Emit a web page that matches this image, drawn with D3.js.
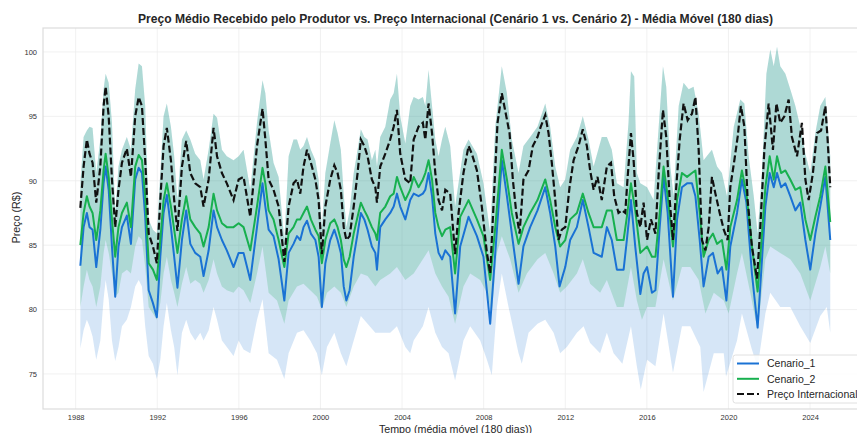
<!DOCTYPE html>
<meta charset="utf-8">
<head>
<script src="https://cdn.jsdelivr.net/npm/d3@7/dist/d3.min.js"></script>
</head>
<style>
  body { margin: 0; background: #fff; font-family: "Liberation Sans", Arial, sans-serif; }
  svg { display: block; }
  .grid line { stroke: #ededed; stroke-width: 0.8; }
  .tick text { fill: #333; font-size: 7.5px; }
</style>
<body></body>
<script>
var width = 857, height = 433;
var margin = {left: 43, right: 868, top: 28, bottom: 409};

// [ano, valor]
var precoInternacional = [
  [1988.23,87.9],[1988.39,91.1],[1988.55,93.2],[1988.68,92.1],[1988.83,91.4],[1989.01,88.3],[1989.21,91.1],
  [1989.37,95.8],[1989.47,97.3],[1989.62,95.0],[1989.78,90.1],[1989.94,86.4],[1990.10,89.3],[1990.27,91.4],
  [1990.51,92.5],[1990.71,90.3],[1990.92,95.0],[1991.09,96.5],[1991.25,95.8],[1991.41,91.6],[1991.58,85.9],
  [1991.79,84.9],[1991.98,83.6],[1992.15,88.5],[1992.31,92.7],[1992.47,94.1],[1992.67,91.6],[1992.83,88.5],
  [1992.99,86.1],[1993.21,91.1],[1993.42,93.1],[1993.62,90.6],[1993.86,89.8],[1994.11,89.5],[1994.27,88.0],
  [1994.52,90.1],[1994.76,94.1],[1994.93,91.9],[1995.17,90.6],[1995.41,89.8],[1995.74,88.5],[1995.99,90.1],
  [1996.23,90.3],[1996.56,87.2],[1996.89,92.7],[1997.16,95.6],[1997.30,93.2],[1997.46,90.1],[1997.70,89.3],
  [1997.95,88.0],[1998.23,83.7],[1998.44,88.0],[1998.68,89.8],[1998.85,90.1],[1999.01,89.0],[1999.17,91.1],
  [1999.34,92.4],[1999.53,91.4],[1999.75,90.1],[1999.91,88.5],[2000.07,84.3],[2000.24,88.0],[2000.48,90.1],
  [2000.68,91.2],[2000.84,90.6],[2001.00,89.3],[2001.14,86.4],[2001.27,85.4],[2001.43,85.7],[2001.63,88.0],
  [2001.82,90.6],[2001.98,93.2],[2002.15,92.7],[2002.31,91.9],[2002.52,90.1],[2002.69,89.5],[2002.77,88.3],
  [2002.93,91.1],[2003.18,92.1],[2003.42,93.2],[2003.59,94.2],[2003.75,95.5],[2003.91,92.1],[2004.16,90.1],
  [2004.40,89.8],[2004.57,93.2],[2004.81,94.2],[2005.02,94.5],[2005.14,93.2],[2005.30,96.0],[2005.47,93.7],
  [2005.63,90.6],[2005.79,88.5],[2005.96,87.7],[2006.12,89.3],[2006.36,89.0],[2006.60,84.3],[2006.77,87.5],
  [2007.01,90.6],[2007.26,92.7],[2007.42,92.1],[2007.67,90.8],[2007.91,88.0],[2008.16,84.4],[2008.32,82.8],
  [2008.48,88.0],[2008.68,94.5],[2008.89,96.8],[2009.11,95.0],[2009.27,93.7],[2009.43,90.1],[2009.60,87.5],
  [2009.76,85.9],[2009.95,90.1],[2010.20,90.8],[2010.41,92.7],[2010.64,93.4],[2010.80,94.2],[2011.02,95.1],
  [2011.18,93.7],[2011.34,91.4],[2011.51,88.5],[2011.67,85.4],[2011.83,86.2],[2012.00,86.4],[2012.21,89.5],
  [2012.41,91.6],[2012.65,92.7],[2012.86,94.0],[2013.06,92.7],[2013.22,90.8],[2013.39,89.3],[2013.58,90.3],
  [2013.79,88.5],[2014.04,91.1],[2014.24,91.4],[2014.40,88.8],[2014.61,87.5],[2014.78,87.7],[2014.94,87.5],
  [2015.05,90.1],[2015.22,93.7],[2015.35,91.6],[2015.51,87.5],[2015.68,86.4],[2015.84,88.3],[2016.01,85.4],
  [2016.20,87.0],[2016.42,85.9],[2016.58,90.6],[2016.79,95.5],[2016.95,93.4],[2017.12,88.5],[2017.28,85.4],
  [2017.44,89.5],[2017.61,93.2],[2017.80,96.0],[2018.00,94.7],[2018.21,95.2],[2018.38,96.5],[2018.54,92.4],
  [2018.70,85.4],[2018.87,84.6],[2019.03,86.4],[2019.19,90.3],[2019.36,89.0],[2019.57,87.5],[2019.77,86.2],
  [2019.96,85.4],[2020.09,89.5],[2020.29,91.6],[2020.45,93.4],[2020.61,95.8],[2020.78,94.2],[2020.94,88.5],
  [2021.15,84.9],[2021.40,82.4],[2021.56,86.4],[2021.76,92.4],[2021.97,96.0],[2022.18,92.4],[2022.35,96.0],
  [2022.54,94.5],[2022.74,95.0],[2022.95,96.3],[2023.11,93.4],[2023.36,91.9],[2023.60,94.5],[2023.77,90.1],
  [2023.93,88.5],[2024.14,90.6],[2024.34,93.7],[2024.54,93.9],[2024.75,95.8],[2024.86,93.2],[2024.99,89.5]
];

var cenario2 = [
  [1988.23,85.0],[1988.39,87.5],[1988.55,88.8],[1988.68,88.0],[1988.83,87.5],[1989.01,85.4],[1989.21,87.7],
  [1989.37,90.8],[1989.47,92.1],[1989.62,90.3],[1989.78,87.0],[1989.94,84.1],[1990.10,86.4],[1990.27,87.5],
  [1990.51,88.3],[1990.71,86.4],[1990.92,91.1],[1991.09,92.0],[1991.25,91.6],[1991.41,88.8],[1991.58,83.6],
  [1991.79,83.1],[1991.98,82.3],[1992.15,85.4],[1992.31,88.5],[1992.47,89.8],[1992.67,88.0],[1992.83,86.2],
  [1992.99,84.4],[1993.21,87.0],[1993.42,88.8],[1993.62,87.0],[1993.86,86.4],[1994.11,85.9],[1994.27,84.9],
  [1994.52,86.4],[1994.76,89.0],[1994.93,87.7],[1995.17,86.7],[1995.41,86.4],[1995.74,86.4],[1995.99,86.7],
  [1996.23,86.4],[1996.56,84.6],[1996.89,88.0],[1997.16,91.0],[1997.30,89.8],[1997.46,87.7],[1997.70,87.0],
  [1997.95,85.4],[1998.23,83.3],[1998.44,85.9],[1998.68,86.4],[1998.85,87.0],[1999.01,87.0],[1999.17,87.5],
  [1999.34,88.0],[1999.53,87.0],[1999.75,86.2],[1999.91,85.7],[2000.07,83.6],[2000.24,85.4],[2000.48,86.7],
  [2000.68,87.0],[2000.84,86.4],[2001.00,85.4],[2001.14,83.9],[2001.27,83.3],[2001.43,84.1],[2001.63,85.9],
  [2001.82,87.2],[2001.98,88.3],[2002.15,87.7],[2002.31,87.2],[2002.52,86.4],[2002.69,85.9],[2002.77,85.4],
  [2002.93,87.5],[2003.18,88.0],[2003.42,88.8],[2003.59,89.0],[2003.75,90.3],[2003.91,89.5],[2004.16,88.5],
  [2004.40,89.3],[2004.57,90.3],[2004.81,89.5],[2005.02,90.1],[2005.14,90.6],[2005.30,91.6],[2005.47,90.1],
  [2005.63,87.5],[2005.79,86.4],[2005.96,85.7],[2006.12,86.2],[2006.36,86.4],[2006.60,82.8],[2006.85,87.2],
  [2007.26,88.5],[2007.67,87.0],[2007.99,85.7],[2008.32,82.3],[2008.57,86.4],[2008.89,92.4],[2009.14,90.1],
  [2009.38,87.5],[2009.71,85.1],[2009.95,86.4],[2010.28,87.5],[2010.64,88.5],[2011.02,90.1],[2011.26,88.5],
  [2011.51,86.4],[2011.75,84.9],[2012.00,85.4],[2012.24,87.0],[2012.57,87.5],[2012.86,89.0],[2013.14,87.5],
  [2013.39,86.4],[2013.79,86.4],[2014.04,87.7],[2014.28,87.7],[2014.53,85.4],[2014.86,85.4],[2015.02,87.2],
  [2015.22,89.8],[2015.43,87.7],[2015.68,84.4],[2016.01,84.9],[2016.25,84.1],[2016.42,84.1],[2016.63,87.5],
  [2016.82,91.1],[2017.02,88.8],[2017.28,84.9],[2017.48,88.5],[2017.72,90.6],[2017.97,90.3],[2018.21,90.6],
  [2018.38,90.8],[2018.59,87.5],[2018.78,84.1],[2019.03,85.4],[2019.24,85.9],[2019.44,85.1],[2019.68,85.4],
  [2019.90,83.1],[2020.09,86.4],[2020.42,88.5],[2020.66,90.8],[2020.88,89.0],[2021.15,84.9],[2021.43,81.4],
  [2021.60,84.9],[2021.81,89.5],[2022.02,91.9],[2022.22,90.1],[2022.38,91.9],[2022.58,90.6],[2022.79,90.8],
  [2023.03,90.1],[2023.28,89.3],[2023.52,89.5],[2023.77,87.0],[2024.01,85.4],[2024.26,87.2],[2024.50,88.8],
  [2024.75,91.1],[2024.99,86.8]
];

var cenario1 = [
  [1988.23,83.4],[1988.39,86.4],[1988.55,87.5],[1988.68,86.4],[1988.83,86.2],[1989.01,83.3],[1989.21,86.2],
  [1989.37,89.8],[1989.47,91.1],[1989.62,89.3],[1989.78,84.9],[1989.94,81.0],[1990.10,84.9],[1990.27,86.4],
  [1990.51,87.3],[1990.71,85.1],[1990.92,90.1],[1991.09,91.0],[1991.25,90.6],[1991.41,87.2],[1991.58,81.5],
  [1991.79,80.5],[1991.98,79.4],[1992.15,84.1],[1992.31,87.5],[1992.47,88.9],[1992.67,86.4],[1992.83,84.1],
  [1992.99,81.7],[1993.21,85.4],[1993.42,87.7],[1993.62,85.1],[1993.86,84.4],[1994.11,84.1],[1994.27,82.6],
  [1994.52,84.6],[1994.76,87.7],[1994.93,86.4],[1995.17,85.4],[1995.41,84.6],[1995.74,83.3],[1995.99,84.4],
  [1996.23,84.4],[1996.56,82.3],[1996.89,86.4],[1997.16,89.8],[1997.30,88.0],[1997.46,86.2],[1997.70,85.7],
  [1997.95,83.9],[1998.23,80.7],[1998.44,84.4],[1998.68,85.1],[1998.85,85.7],[1999.01,85.4],[1999.17,86.4],
  [1999.34,86.9],[1999.53,85.9],[1999.75,85.4],[1999.91,84.1],[2000.07,80.2],[2000.24,83.6],[2000.48,85.4],
  [2000.68,86.2],[2000.84,85.4],[2001.00,84.4],[2001.14,81.8],[2001.27,80.7],[2001.43,81.5],[2001.63,84.1],
  [2001.82,85.9],[2001.98,87.5],[2002.15,87.0],[2002.31,86.2],[2002.52,84.9],[2002.69,84.4],[2002.77,83.1],
  [2002.93,86.4],[2003.18,87.0],[2003.42,87.5],[2003.59,88.0],[2003.75,89.0],[2003.91,88.0],[2004.16,87.0],
  [2004.40,88.5],[2004.57,89.0],[2004.81,88.8],[2005.02,89.0],[2005.14,89.3],[2005.30,90.6],[2005.47,88.8],
  [2005.63,85.9],[2005.79,84.4],[2005.96,83.9],[2006.12,84.6],[2006.36,84.1],[2006.60,79.7],[2006.85,84.9],
  [2007.26,87.2],[2007.67,85.7],[2007.99,84.1],[2008.32,78.9],[2008.57,84.4],[2008.89,91.6],[2009.14,88.8],
  [2009.38,85.9],[2009.71,82.0],[2009.95,84.9],[2010.28,86.4],[2010.64,87.7],[2011.02,89.5],[2011.26,87.5],
  [2011.51,84.9],[2011.72,81.8],[2012.00,83.3],[2012.24,85.4],[2012.57,86.4],[2012.86,88.5],[2013.14,86.4],
  [2013.39,84.4],[2013.79,84.1],[2014.04,86.4],[2014.28,85.4],[2014.53,83.1],[2014.86,83.1],[2015.02,85.4],
  [2015.22,88.5],[2015.43,84.9],[2015.68,81.2],[2015.84,82.8],[2016.01,83.3],[2016.25,81.3],[2016.42,81.5],
  [2016.63,86.4],[2016.82,90.3],[2017.02,87.5],[2017.28,81.0],[2017.48,87.0],[2017.72,89.5],[2017.97,89.8],
  [2018.21,89.8],[2018.38,88.8],[2018.59,85.4],[2018.78,81.8],[2019.03,84.1],[2019.24,84.4],[2019.47,82.8],
  [2019.68,83.3],[2019.90,80.7],[2020.09,84.9],[2020.42,87.5],[2020.66,90.1],[2020.88,88.3],[2021.15,82.8],
  [2021.43,78.6],[2021.60,82.8],[2021.81,88.0],[2022.02,90.6],[2022.22,89.5],[2022.38,90.6],[2022.58,89.5],
  [2022.79,89.8],[2023.03,88.8],[2023.28,87.7],[2023.52,88.3],[2023.77,85.4],[2024.01,83.1],[2024.26,85.9],
  [2024.50,88.0],[2024.75,90.3],[2024.99,85.4]
];

// limite superior (comum às duas faixas)
var faixaSuperior = [
  [1988.23,89.8],[1988.39,93.4],[1988.55,93.9],[1988.68,94.2],[1988.83,94.1],[1989.01,90.6],[1989.21,93.2],
  [1989.37,97.1],[1989.47,98.3],[1989.62,97.6],[1989.78,94.5],[1989.94,87.5],[1990.10,91.1],[1990.27,92.4],
  [1990.51,93.4],[1990.71,92.4],[1990.92,97.1],[1991.09,99.1],[1991.25,98.9],[1991.41,95.8],[1991.58,87.0],
  [1991.79,86.2],[1991.98,85.9],[1992.15,90.6],[1992.31,95.0],[1992.47,96.0],[1992.67,94.2],[1992.83,91.9],
  [1992.99,88.5],[1993.21,93.2],[1993.42,93.9],[1993.62,93.2],[1993.86,92.1],[1994.11,91.6],[1994.27,90.1],
  [1994.52,92.4],[1994.76,95.2],[1994.93,94.9],[1995.17,92.4],[1995.41,91.9],[1995.74,91.6],[1995.99,91.9],
  [1996.23,92.4],[1996.56,89.3],[1996.89,94.5],[1997.16,97.8],[1997.30,96.8],[1997.46,93.9],[1997.70,91.4],
  [1997.95,90.3],[1998.23,85.4],[1998.44,91.9],[1998.68,93.2],[1998.85,93.2],[1999.01,92.4],[1999.17,92.7],
  [1999.34,93.4],[1999.53,92.4],[1999.75,91.6],[1999.91,90.1],[2000.07,86.4],[2000.24,90.6],[2000.48,92.9],
  [2000.68,94.7],[2000.84,93.7],[2001.00,92.4],[2001.14,89.0],[2001.27,86.4],[2001.43,87.7],[2001.63,90.6],
  [2001.82,92.4],[2001.98,94.0],[2002.15,93.4],[2002.31,93.2],[2002.52,91.6],[2002.69,92.4],[2002.77,91.1],
  [2002.93,93.4],[2003.18,94.2],[2003.42,96.3],[2003.59,96.8],[2003.75,98.3],[2003.91,95.0],[2004.16,92.9],
  [2004.40,95.8],[2004.57,96.5],[2004.81,96.3],[2005.02,96.5],[2005.14,95.8],[2005.30,98.6],[2005.47,95.8],
  [2005.63,93.2],[2005.79,91.9],[2005.96,93.2],[2006.12,94.2],[2006.36,92.7],[2006.60,88.0],[2007.01,92.4],
  [2007.26,93.2],[2007.67,92.1],[2007.99,89.8],[2008.32,85.9],[2008.57,94.2],[2008.89,98.9],[2009.14,96.8],
  [2009.38,93.2],[2009.71,90.6],[2009.95,92.7],[2010.28,93.4],[2010.64,94.2],[2011.02,96.0],[2011.26,94.2],
  [2011.51,91.1],[2011.75,89.5],[2012.00,90.1],[2012.24,92.4],[2012.57,93.4],[2012.86,95.0],[2013.14,93.2],
  [2013.39,91.1],[2013.79,93.4],[2014.04,93.4],[2014.28,92.4],[2014.53,89.8],[2014.86,89.5],[2015.10,94.5],
  [2015.22,98.5],[2015.38,98.1],[2015.51,90.6],[2015.68,89.8],[2016.01,89.5],[2016.33,88.5],[2016.58,94.2],
  [2016.79,98.9],[2016.95,97.3],[2017.15,91.1],[2017.31,88.8],[2017.56,95.8],[2017.80,97.6],[2018.05,97.1],
  [2018.29,97.3],[2018.54,95.2],[2018.78,91.6],[2019.03,92.1],[2019.19,92.4],[2019.44,91.1],[2019.68,90.6],
  [2019.93,88.8],[2020.26,94.2],[2020.58,96.3],[2020.78,96.0],[2020.99,91.9],[2021.24,88.8],[2021.43,85.9],
  [2021.64,90.6],[2021.86,98.3],[2022.05,100.2],[2022.22,98.9],[2022.38,100.4],[2022.54,98.9],[2022.79,98.3],
  [2023.03,97.1],[2023.28,95.8],[2023.52,94.2],[2023.77,92.1],[2024.01,90.6],[2024.26,93.7],[2024.50,95.8],
  [2024.75,96.5],[2024.99,91.9]
];

var faixaInferior2 = [
  [1988.23,80.2],[1988.39,81.8],[1988.55,83.1],[1988.68,82.3],[1988.83,81.8],[1989.01,80.2],[1989.21,81.8],
  [1989.37,84.4],[1989.47,85.4],[1989.62,84.4],[1989.78,82.8],[1989.94,81.0],[1990.10,81.3],[1990.27,82.8],
  [1990.51,83.1],[1990.71,82.8],[1990.92,84.9],[1991.09,85.7],[1991.25,85.4],[1991.41,83.3],[1991.58,80.2],
  [1991.79,79.7],[1991.98,79.2],[1992.15,80.5],[1992.31,82.8],[1992.47,84.1],[1992.67,82.3],[1992.83,81.3],
  [1992.99,80.2],[1993.21,82.0],[1993.42,83.3],[1993.62,82.0],[1993.86,82.3],[1994.11,82.0],[1994.27,81.3],
  [1994.52,82.3],[1994.76,83.9],[1994.93,82.8],[1995.17,81.8],[1995.41,81.5],[1995.74,81.3],[1995.99,81.8],
  [1996.23,81.5],[1996.56,80.5],[1996.89,82.8],[1997.16,84.9],[1997.46,81.3],[1997.87,80.7],[1998.23,78.9],
  [1998.44,80.7],[1998.85,81.8],[1999.17,82.0],[1999.50,81.5],[1999.83,81.0],[2000.07,80.0],[2000.32,81.3],
  [2000.68,81.8],[2001.00,81.3],[2001.27,80.2],[2001.63,81.8],[2001.98,82.8],[2002.31,82.6],[2002.69,81.8],
  [2002.93,82.3],[2003.42,82.8],[2003.75,83.3],[2004.16,82.3],[2004.57,82.8],[2005.02,83.9],[2005.30,84.6],
  [2005.63,82.8],[2005.96,81.8],[2006.28,81.0],[2006.60,78.9],[2007.01,81.8],[2007.34,82.8],[2007.83,82.3],
  [2008.16,81.3],[2008.40,79.7],[2008.65,84.4],[2008.89,85.7],[2009.30,83.9],[2009.71,81.3],[2010.12,82.8],
  [2010.64,83.9],[2011.02,84.4],[2011.43,82.8],[2011.75,81.3],[2012.08,81.8],[2012.57,82.8],[2012.86,83.9],
  [2013.22,82.0],[2013.71,81.3],[2014.04,82.3],[2014.53,80.2],[2014.86,80.2],[2015.22,83.3],[2015.51,80.7],
  [2015.76,79.2],[2016.01,80.2],[2016.42,80.2],[2016.82,83.9],[2017.28,80.7],[2017.72,83.3],[2018.13,83.3],
  [2018.54,82.3],[2018.87,79.7],[2019.28,81.3],[2019.77,80.7],[2020.01,79.7],[2020.42,82.8],[2020.66,84.4],
  [2021.07,81.3],[2021.43,78.4],[2021.81,83.9],[2022.05,84.9],[2022.54,84.4],[2023.03,83.9],[2023.52,82.8],
  [2024.01,80.7],[2024.50,83.3],[2024.75,84.9],[2024.99,82.8]
];

var faixaInferior1 = [
  [1988.23,77.0],[1988.39,78.4],[1988.55,79.2],[1988.68,78.7],[1988.83,77.9],[1989.01,76.1],[1989.21,77.6],
  [1989.37,80.8],[1989.47,82.3],[1989.62,80.8],[1989.78,77.6],[1989.94,76.0],[1990.10,77.1],[1990.27,78.7],
  [1990.51,79.2],[1990.71,80.2],[1990.92,81.8],[1991.09,82.3],[1991.25,81.8],[1991.41,78.7],[1991.58,76.4],
  [1991.79,75.8],[1991.98,74.6],[1992.15,76.1],[1992.31,78.7],[1992.47,80.5],[1992.67,78.4],[1992.83,77.1],
  [1992.99,74.9],[1993.21,78.2],[1993.42,79.2],[1993.62,78.2],[1993.86,77.6],[1994.11,78.2],[1994.27,77.6],
  [1994.52,78.4],[1994.76,80.2],[1994.93,79.2],[1995.17,77.6],[1995.41,77.1],[1995.74,76.4],[1995.99,77.6],
  [1996.23,76.9],[1996.56,76.6],[1996.89,79.2],[1997.16,80.8],[1997.46,76.6],[1997.87,76.1],[1998.23,74.6],
  [1998.44,76.6],[1998.85,78.2],[1999.17,78.4],[1999.50,77.6],[1999.83,76.6],[2000.07,74.9],[2000.32,77.1],
  [2000.68,78.2],[2001.00,76.6],[2001.27,75.6],[2001.63,77.6],[2001.98,79.5],[2002.31,78.9],[2002.69,78.2],
  [2002.93,78.2],[2003.42,78.2],[2003.75,78.7],[2004.16,77.1],[2004.40,76.6],[2004.57,77.6],[2005.02,78.7],
  [2005.30,80.2],[2005.63,78.2],[2005.96,77.1],[2006.28,76.6],[2006.60,74.5],[2007.01,77.6],[2007.34,78.7],
  [2007.83,77.6],[2008.16,76.1],[2008.40,74.9],[2008.65,80.2],[2008.89,82.8],[2009.22,80.2],[2009.71,76.6],
  [2009.87,75.8],[2010.20,78.2],[2010.64,78.9],[2011.02,79.2],[2011.43,78.2],[2011.75,76.6],[2012.08,77.1],
  [2012.57,78.2],[2012.90,78.7],[2013.22,77.4],[2013.71,76.6],[2014.04,78.2],[2014.37,76.6],[2014.80,75.8],
  [2015.22,78.7],[2015.51,75.6],[2015.70,73.8],[2016.01,76.1],[2016.42,75.6],[2016.82,79.7],[2017.28,75.1],
  [2017.72,78.7],[2018.13,78.7],[2018.62,77.1],[2018.78,73.6],[2019.28,76.6],[2019.77,76.6],[2019.88,74.8],
  [2020.42,77.6],[2020.66,79.7],[2021.15,76.9],[2021.43,75.5],[2021.81,79.7],[2022.05,81.3],[2022.54,80.2],
  [2023.03,80.2],[2023.52,78.7],[2024.01,77.4],[2024.50,79.5],[2024.82,80.2],[2024.99,78.2]
];

var xTicks = [1988, 1992, 1996, 2000, 2004, 2008, 2012, 2016, 2020, 2024];
var yTicks = [75, 80, 85, 90, 95, 100];

var x = d3.scaleLinear().domain([1986.4, 2026.84]).range([margin.left, margin.right]);
var y = d3.scaleLinear().domain([72.28, 101.86]).range([margin.bottom, margin.top]);

var svg = d3.select("body").append("svg")
    .attr("width", width)
    .attr("height", height);

// grade
var grid = svg.append("g").attr("class", "grid");
grid.selectAll(".gx").data(xTicks).enter().append("line")
    .attr("x1", function(d) { return x(d); }).attr("x2", function(d) { return x(d); })
    .attr("y1", margin.top).attr("y2", margin.bottom);
grid.selectAll(".gy").data(yTicks).enter().append("line")
    .attr("x1", margin.left).attr("x2", margin.right)
    .attr("y1", function(d) { return y(d); }).attr("y2", function(d) { return y(d); });

var line = d3.line()
    .x(function(d) { return x(d[0]); })
    .y(function(d) { return y(d[1]); });

function band(upper, lower) {
  return line(upper.concat(lower.slice().reverse())) + "Z";
}

svg.append("path")
    .attr("d", band(faixaSuperior, faixaInferior1))
    .style("fill", "rgba(25,118,210,0.18)");

svg.append("path")
    .attr("d", band(faixaSuperior, faixaInferior2))
    .style("fill", "rgba(30,170,90,0.21)");

svg.append("path")
    .datum(cenario1)
    .attr("d", line)
    .style("fill", "none").style("stroke", "#1a72d4").style("stroke-width", 2)
    .style("stroke-linejoin", "round");

svg.append("path")
    .datum(cenario2)
    .attr("d", line)
    .style("fill", "none").style("stroke", "#17b04f").style("stroke-width", 2)
    .style("stroke-linejoin", "round");

svg.append("path")
    .datum(precoInternacional)
    .attr("d", line)
    .style("fill", "none").style("stroke", "#111").style("stroke-width", 2.2)
    .style("stroke-dasharray", "7,3");

// moldura
svg.append("rect")
    .attr("x", margin.left).attr("y", margin.top)
    .attr("width", margin.right - margin.left).attr("height", margin.bottom - margin.top)
    .style("fill", "none").style("stroke", "#dcdcdc").style("stroke-width", 1.2);

// eixos
var xAxis = svg.append("g")
    .attr("transform", "translate(0," + margin.bottom + ")")
    .call(d3.axisBottom(x).tickValues(xTicks).tickFormat(d3.format("d")).tickSize(0).tickPadding(5.5));
xAxis.select(".domain").remove();

var yAxis = svg.append("g")
    .attr("transform", "translate(" + margin.left + ",0)")
    .call(d3.axisLeft(y).tickValues(yTicks).tickSize(0).tickPadding(6));
yAxis.select(".domain").remove();

svg.selectAll(".tick text").style("font-family", "'Liberation Sans', Arial, sans-serif");

svg.append("text")
    .attr("x", (margin.left + margin.right) / 2)
    .attr("y", 23)
    .attr("text-anchor", "middle")
    .style("font-weight", "bold")
    .style("font-size", "12.1px")
    .style("fill", "#262626")
    .text("Preço Médio Recebido pelo Produtor vs. Preço Internacional (Cenário 1 vs. Cenário 2) - Média Móvel (180 dias)");

svg.append("text")
    .attr("x", (margin.left + margin.right) / 2)
    .attr("y", 432.5)
    .attr("text-anchor", "middle")
    .style("font-size", "10.7px")
    .style("fill", "#262626")
    .text("Tempo (média móvel (180 dias))");

svg.append("text")
    .attr("transform", "translate(20,217.5) rotate(-90)")
    .attr("text-anchor", "middle")
    .style("font-size", "10.7px")
    .style("fill", "#262626")
    .text("Preço (R$)");

// legenda
var legendItems = [
  {label: "Cenario_1", color: "#1a72d4", dash: null},
  {label: "Cenario_2", color: "#17b04f", dash: null},
  {label: "Preço Internacional", color: "#111", dash: "7,3"}
];

var lg = svg.append("g").attr("transform", "translate(733,355)");
lg.append("rect")
    .attr("width", 132).attr("height", 48).attr("rx", 2.5)
    .style("fill", "rgba(255,255,255,0.85)").style("stroke", "#d8d8d8").style("stroke-width", 0.8);

var item = lg.selectAll(".legend").data(legendItems).enter().append("g")
    .attr("transform", function(d, i) { return "translate(0," + (8.5 + 15.3 * i) + ")"; });
item.append("line")
    .attr("x1", 4).attr("x2", 26)
    .style("stroke", function(d) { return d.color; })
    .style("stroke-width", 2)
    .style("stroke-dasharray", function(d) { return d.dash; });
item.append("text")
    .attr("x", 34).attr("y", 3.8)
    .style("font-size", "10.5px")
    .style("fill", "#262626")
    .text(function(d) { return d.label; });
</script>
</html>
